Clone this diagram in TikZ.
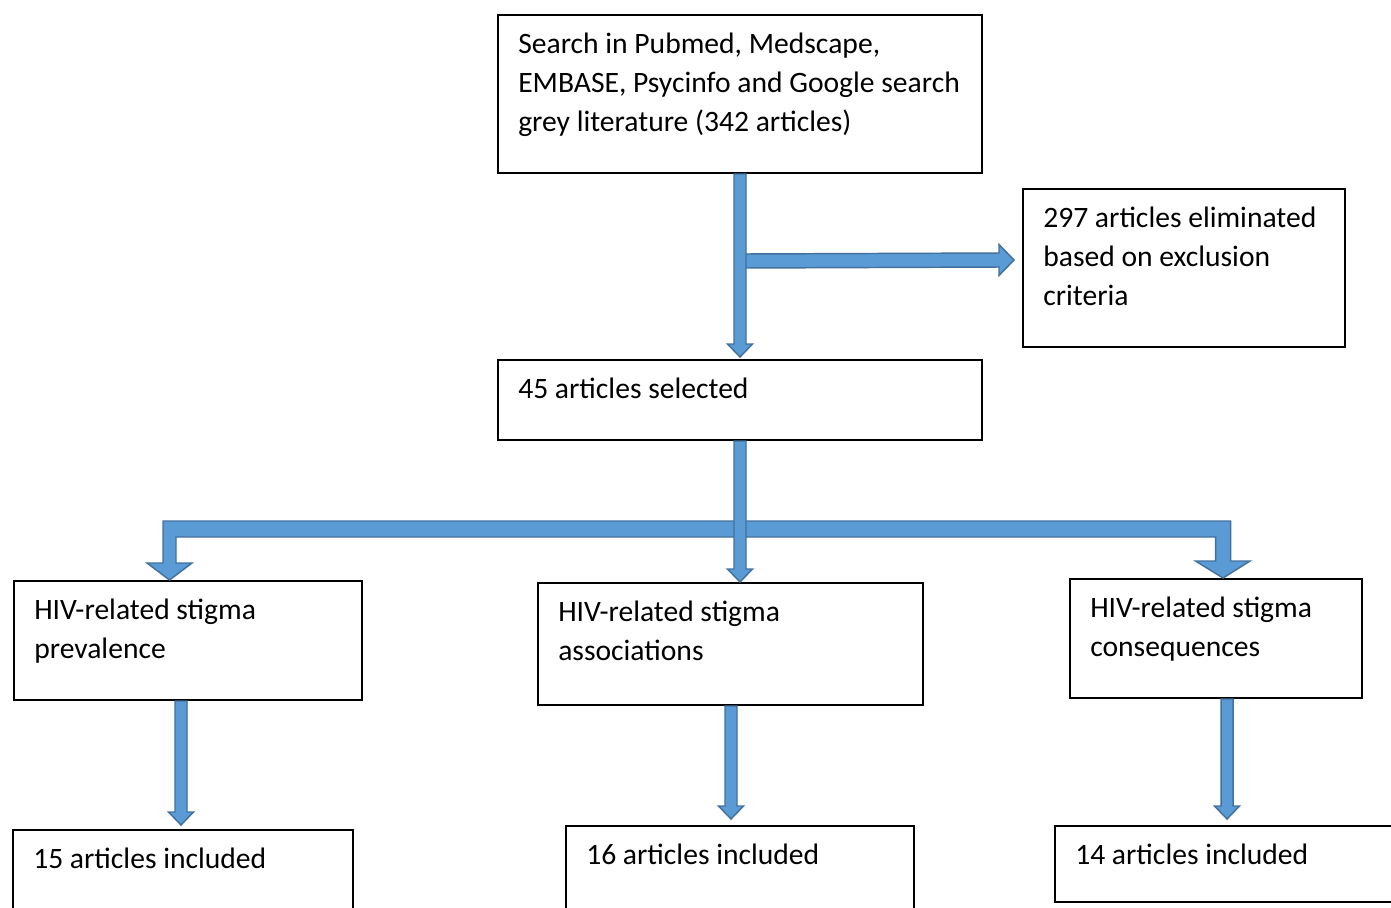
\documentclass[tikz,border=0pt]{standalone}
\usepackage{fontspec}
\setmainfont{Carlito}
\usetikzlibrary{calc,fit}
\definecolor{arrowfill}{HTML}{5B9BD5}
\definecolor{arrowline}{HTML}{41719C}
\tikzset{
  x=0.75pt, y=-0.75pt,
  box/.style={draw=black, line width=1.5pt, inner sep=0pt},
  boxtext/.style={anchor=base west, inner sep=0pt,
    font=\fontsize{22.2pt}{29.25pt}\selectfont},
  blockarrow/.style={fill=arrowfill, draw=arrowline, line width=1.1pt, line join=miter},
}
% left-aligned lines, the node's baseline being that of the first line
\newcommand\toplines[1]{\begin{tabular}[t]{@{}l@{}}#1\end{tabular}}
% vertical block arrow: #1 start of shaft, #2 tip (same x)
\newcommand\vblockarrow[2]{%
  \path[blockarrow] ($(#1)+(-6,0)$) -- ($(#2)+(-6,-13)$) -- ($(#2)+(-12.5,-13)$)
    -- (#2) -- ($(#2)+(12.5,-13)$) -- ($(#2)+(6,-13)$) -- ($(#1)+(6,0)$) -- cycle;}
\begin{document}
\begin{tikzpicture}
\useasboundingbox (0,0) rectangle (1391,907);
\clip (0,0) rectangle (1391,907);
\fill[white] (0,0) rectangle (1391,907);

% boxes
\node[box, fit={(498,15)(982,173)}]   (search)   {};
\node[box, fit={(1023,189)(1345,347)}] (excluded) {};
\node[box, fit={(498,360)(982,440)}]  (selected) {};
\node[box, fit={(14,581)(362,700)}]   (prev)     {};
\node[box, fit={(538,583)(923,705)}]  (assoc)    {};
\node[box, fit={(1070,579)(1362,698)}] (conseq)  {};
\node[box, fit={(13,830)(353,915)}]   (incA)     {};
\node[box, fit={(566,826)(914,915)}]  (incB)     {};
\node[box, fit={(1055,826)(1400,902)}] (incC)    {};

% box texts
\node[boxtext] (searchT) at ($(search.north west)+(21,39.5)$)
  {\toplines{Search in Pubmed, Medscape,\\EMBASE, Psycinfo and Google search\\grey literature (342 articles)}};
\node[boxtext] (excludedT) at ($(excluded.north west)+(21,39.5)$)
  {\toplines{297 articles eliminated\\based on exclusion\\criteria}};
\node[boxtext] (selectedT) at ($(selected.north west)+(21,39.5)$) {45 articles selected};
\node[boxtext] (prevT) at ($(prev.north west)+(21,39.5)$) {\toplines{HIV-related stigma\\prevalence}};
\node[boxtext] (assocT) at ($(assoc.north west)+(21,39.5)$) {\toplines{HIV-related stigma\\associations}};
\node[boxtext] (conseqT) at ($(conseq.north west)+(21,39.5)$) {\toplines{HIV-related stigma\\consequences}};
\node[boxtext] (incAT) at ($(incA.north west)+(21,39.5)$) {15 articles included};
\node[boxtext] (incBT) at ($(incB.north west)+(21,39.5)$) {16 articles included};
\node[boxtext] (incCT) at ($(incC.north west)+(21,39.5)$) {14 articles included};

% connector end points
\coordinate (tipSel) at ($(selected.north)+(0,-2)$);
\coordinate (branch) at ($(search.south)+(5,87)$);
\coordinate (tipExc) at ($(excluded.west)+(-8,-8)$);
\coordinate (tipMid) at (selected.south |- assoc.north);
\coordinate (hub)    at ($(selected.south)+(0,88)$);
\coordinate (tipL)   at ($(prev.north west)+(156.5,0)$);
\coordinate (tipR)   at ($(conseq.north west)+(154,0)$);
\coordinate (topA)   at ($(prev.south west)+(168,0)$);
\coordinate (tipA)   at ($(incA.north west)+(169,-4)$);
\coordinate (topB)   at ($(assoc.south west)+(194,0)$);
\coordinate (tipB)   at ($(incB.north west)+(166,-6)$);
\coordinate (topC)   at ($(conseq.south west)+(158,0)$);
\coordinate (tipC)   at ($(incC.north west)+(173,-6)$);

% side arrow to the excluded box
\path[blockarrow] ($(branch)+(0,-7)$) -- ($(tipExc)+(-15,-7)$) -- ($(tipExc)+(-15,-15.5)$)
  -- (tipExc) -- ($(tipExc)+(-15,15.5)$) -- ($(tipExc)+(-15,7)$) -- ($(branch)+(0,7)$) -- cycle;
% search -> selected
\vblockarrow{search.south}{tipSel}

% three-way split below the selected box
\path[blockarrow] ($(hub -| tipL)+(-6.5,-8)$) -- ($(hub -| tipR)+(7.5,-8)$)
  -- ($(tipR)+(7.5,-17)$) -- ($(tipR)+(27,-17)$) -- (tipR) -- ($(tipR)+(-27.5,-17)$)
  -- ($(tipR)+(-7.5,-17)$) -- ($(hub -| tipR)+(-7.5,8)$) -- ($(hub -| tipL)+(6.5,8)$)
  -- ($(tipL)+(6.5,-17)$) -- ($(tipL)+(22.5,-17)$) -- (tipL) -- ($(tipL)+(-22.5,-17)$)
  -- ($(tipL)+(-6.5,-17)$) -- cycle;
\vblockarrow{selected.south}{tipMid}

% arrows to the included counts
\vblockarrow{topA}{tipA}
\vblockarrow{topB}{tipB}
\vblockarrow{topC}{tipC}
\end{tikzpicture}
\end{document}
